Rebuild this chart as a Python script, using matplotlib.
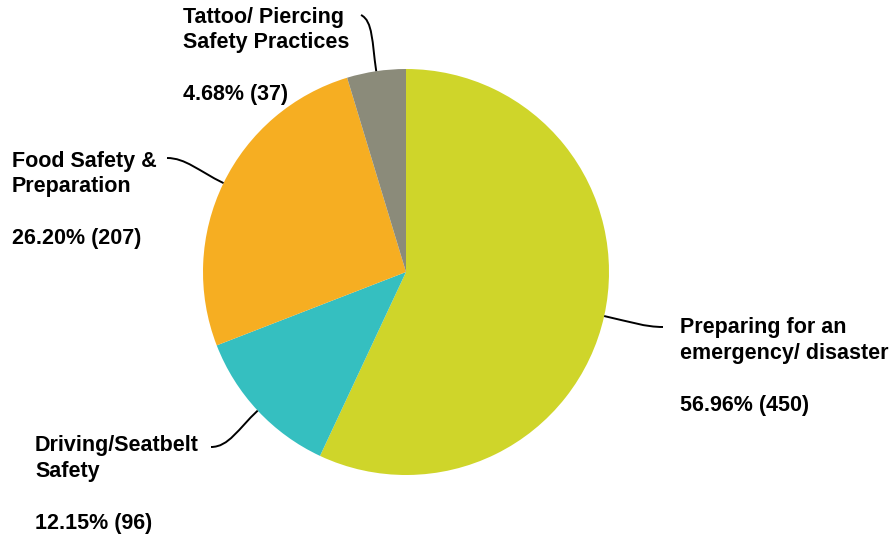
import numpy as np
import matplotlib
matplotlib.use("Agg")
import matplotlib.pyplot as plt
from matplotlib.path import Path
from matplotlib.patches import PathPatch

categories = ["Preparing for an\nemergency/ disaster", "Driving/Seatbelt\nSafety",
              "Food Safety &\nPreparation", "Tattoo/ Piercing\nSafety Practices"]
counts = [450, 96, 207, 37]
percents = ["56.96%", "12.15%", "26.20%", "4.68%"]
colors = ["#CFD52A", "#35BFC0", "#F6AE22", "#8B8B7A"]

W, H = 895, 539
fig = plt.figure(figsize=(W / 100, H / 100), dpi=100)
ax = fig.add_axes([0, 0, 1, 1])

cx, cy, r = 406, H - 272, 203
wedges, _ = ax.pie(counts, colors=colors, startangle=90, counterclock=False,
                   center=(cx, cy), radius=r, frame=True,
                   wedgeprops=dict(linewidth=0))
ax.set_xlim(0, W)
ax.set_ylim(0, H)
ax.set_aspect("equal")
ax.axis("off")

# label layout (image pixel coords): x, y of first line, connector end point, direction
layout = [
    dict(x=680, y=328, end=(663, 327), side=-1),
    dict(x=35, y=446, end=(211, 447), side=1),
    dict(x=12, y=161, end=(167, 158), side=1),
    dict(x=183, y=17, end=(361, 15), side=1),
]
fp = dict(family="Liberation Sans", weight="bold", size=15.5, color="black")
line_h = 25
for w, cat, pct, n, L in zip(wedges, categories, percents, counts, layout):
    lines = cat.split("\n")
    for i, t in enumerate(lines):
        ax.text(L["x"], H - (L["y"] + i * line_h), t, ha="left", va="center", **fp)
    ax.text(L["x"], H - (L["y"] + 3.08 * line_h), f"{pct} ({n})", ha="left", va="center", **fp)
    mid = np.deg2rad((w.theta1 + w.theta2) / 2)
    p0 = np.array([cx + r * np.cos(mid), cy + r * np.sin(mid)])
    p3 = np.array([L["end"][0], H - L["end"][1]])
    d = np.linalg.norm(p3 - p0)
    p1 = p0 + 0.45 * d * np.array([np.cos(mid), np.sin(mid)])
    p2 = p3 + np.array([L["side"] * 0.3 * d, 0])
    if L is layout[3]:
        p1 = p0 + 0.5 * d * np.array([np.cos(mid), np.sin(mid)])
        p2 = p3 + np.array([12, -6])
    path = Path([p0, p1, p2, p3], [Path.MOVETO, Path.CURVE4, Path.CURVE4, Path.CURVE4])
    ax.add_patch(PathPatch(path, fill=False, edgecolor="black", lw=1.4))

fig.savefig("out.png", dpi=100)
